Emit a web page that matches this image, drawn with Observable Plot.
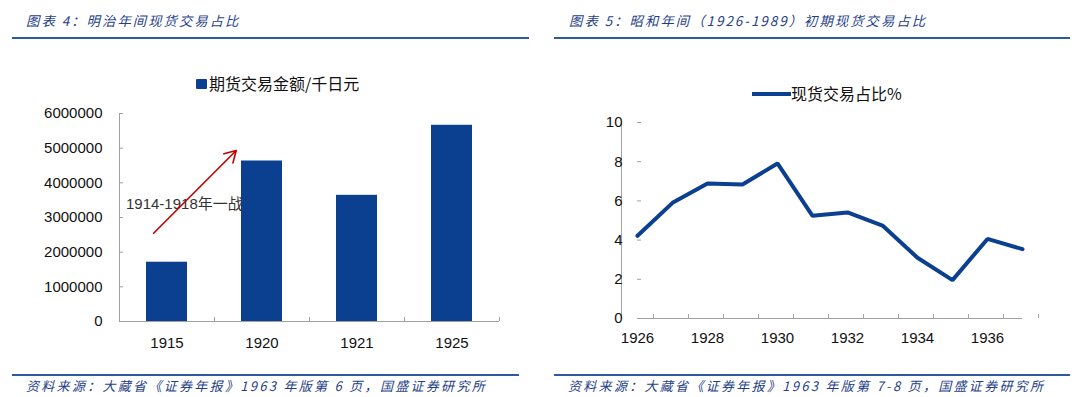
<!DOCTYPE html>
<html><head><meta charset="utf-8">
<script src="https://cdn.jsdelivr.net/npm/d3@7"></script>
<script src="https://cdn.jsdelivr.net/npm/@observablehq/plot@0.6"></script>
<style>
body{margin:0;background:#fff;}
#page{position:relative;width:1080px;height:397px;overflow:hidden;background:#fff;font-family:"Liberation Sans","Noto Sans CJK SC",sans-serif;}
.title{position:absolute;top:10px;font-family:"Noto Sans CJK SC",sans-serif;font-style:italic;font-size:13.4px;letter-spacing:2px;color:#1f3f8a;white-space:nowrap;line-height:20px;}
.cap{position:absolute;top:377px;font-family:"Noto Sans CJK SC",sans-serif;font-style:italic;font-size:13px;letter-spacing:2.3px;color:#1f3f8a;white-space:nowrap;line-height:18px;}
.hr{position:absolute;height:2px;background:#2e5b9f;}
.legend{position:absolute;font-family:"Noto Sans CJK SC",sans-serif;font-size:16px;color:#111;white-space:nowrap;line-height:20px;}
</style></head>
<body><div id="page"></div>
<script>
// ---- data ----
const leftTitle = "图表 4：明治年间现货交易占比";
const rightTitle = "图表 5：昭和年间（1926-1989）初期现货交易占比";
const leftCaption = "资料来源：大藏省《证券年报》1963 年版第 6 页，国盛证券研究所";
const rightCaption = "资料来源：大藏省《证券年报》1963 年版第 7-8 页，国盛证券研究所";
const meijiLegend = "期货交易金额/千日元";
const showaLegend = "现货交易占比%";
const meijiYears = ["1915", "1920", "1921", "1925"];
const meijiFutures = [1710000, 4630000, 3640000, 5660000];
const meijiYTicks = [0, 1000000, 2000000, 3000000, 4000000, 5000000, 6000000];
const warNote = "1914-1918年一战";
const warArrowFrom = ["1915", 2545000];
const warArrowTo = ["1915", 5290000];
const warNoteAt = ["1915", 3380000];
const showaYears = ["1926","1927","1928","1929","1930","1931","1932","1933","1934","1935","1936","1937"];
const showaSpot = [4.22, 5.90, 6.89, 6.84, 7.91, 5.24, 5.41, 4.74, 3.10, 1.96, 4.06, 3.54];
const showaYTicks = [0, 2, 4, 6, 8, 10];
const showaXLabels = ["1926","1928","1930","1932","1934","1936"];

const BLUE = "#0b3f8f", AXIS = "#a0a0a0";
const page = document.getElementById("page");
function add(cls, style, text) {
  const d = document.createElement("div");
  d.className = cls; Object.assign(d.style, style);
  if (text != null) d.textContent = text;
  page.appendChild(d); return d;
}
add("title", {left: "26px"}, leftTitle);
add("title", {left: "569px"}, rightTitle);
add("hr", {left: "12px", width: "517px", top: "37px"});
add("hr", {left: "554px", width: "516px", top: "37px"});
add("hr", {left: "12px", width: "507px", top: "374px"});
add("hr", {left: "554px", width: "516px", top: "374px"});
add("cap", {left: "26px"}, leftCaption);
add("cap", {left: "568px"}, rightCaption);

// legends
add("legend", {left: "196px", top: "79px", width: "11px", height: "10px", background: BLUE, borderRadius: "1px"});
add("legend", {left: "209px", top: "73px"}, meijiLegend);
add("legend", {left: "752px", top: "92px", width: "39px", height: "4px", background: BLUE});
add("legend", {left: "791px", top: "83px"}, showaLegend);

const tickFont = {fontFamily: '"Liberation Sans","Noto Sans CJK SC",sans-serif', fontSize: "15px", color: "#111", background: "transparent", overflow: "visible"};

// left chart
const meijiRows = meijiYears.map((year, i) => ({year, value: meijiFutures[i]}));
const lW = 540, lML = 119, lMR = 41;
const lBW = (lW - lML - lMR) / meijiYears.length;
const left = Plot.plot({
  width: lW, height: 260, marginTop: 13, marginBottom: 39, marginLeft: lML, marginRight: lMR,
  style: tickFont,
  x: {domain: meijiYears, padding: 0, label: null},
  y: {domain: [0, 6000000], label: null},
  marks: [
    Plot.barY(meijiRows, {x: "year", y: "value", fill: BLUE, insetLeft: 27, insetRight: 27}),
    Plot.ruleY([0], {stroke: AXIS}),
    Plot.ruleX([meijiYears[0]], {y1: 0, y2: 6000000, dx: -lBW / 2, stroke: AXIS}),
    Plot.ruleX(meijiYears, {y1: 0, y2: 0, insetTop: -4, dx: lBW / 2, stroke: AXIS}),
    Plot.axisY({ticks: meijiYTicks, tickSize: -4, tickPadding: 21, tickFormat: d => String(d), stroke: AXIS, label: null, fill: "#111"}),
    Plot.axisX({tickSize: 0, tickPadding: 16, label: null, fill: "#111"}),
    Plot.text([warNote], {x: () => warNoteAt[0], y: () => warNoteAt[1], text: d => d, textAnchor: "start", dx: -41, fill: "#333", fontSize: 15}),
    Plot.arrow([{from: warArrowFrom, to: ["1920", warArrowTo[1]]}], {x1: d => d.from[0], y1: d => d.from[1], x2: d => d.to[0], y2: d => d.to[1], dx: -13.4, insetEnd: 17.5, stroke: "#c00000", strokeWidth: 1.6, headLength: 12})
  ]
});
left.style.position = "absolute"; left.style.left = "0px"; left.style.top = "100px";
page.appendChild(left);

// right chart
const showaRows = showaYears.map((year, i) => ({year, value: showaSpot[i]}));
const rW = 540, rML = 97, rMR = 58;
const rBW = (rW - rML - rMR) / showaYears.length;
const right = Plot.plot({
  width: rW, height: 260, marginTop: 22, marginBottom: 42, marginLeft: rML, marginRight: rMR,
  style: tickFont,
  x: {domain: showaYears, padding: 0, label: null},
  y: {domain: [0, 10], label: null},
  marks: [
    Plot.ruleY([0], {stroke: AXIS}),
    Plot.ruleX([showaYears[0]], {y1: 0, y2: 10, dx: -rBW / 2, stroke: AXIS}),
    Plot.ruleX(showaYears, {y1: 0, y2: 0, insetTop: -4, dx: rBW / 2, stroke: AXIS}),
    Plot.axisY({ticks: showaYTicks, tickSize: -4, tickPadding: 19, stroke: AXIS, label: null, fill: "#111"}),
    Plot.axisX({ticks: showaXLabels, tickSize: 0, tickPadding: 14, label: null, fill: "#111"}),
    Plot.lineY(showaRows, {x: "year", y: "value", stroke: BLUE, strokeWidth: 4, strokeLinejoin: "miter"})
  ]
});
right.style.position = "absolute"; right.style.left = "540px"; right.style.top = "100px";
page.appendChild(right);
</script>
</body></html>
